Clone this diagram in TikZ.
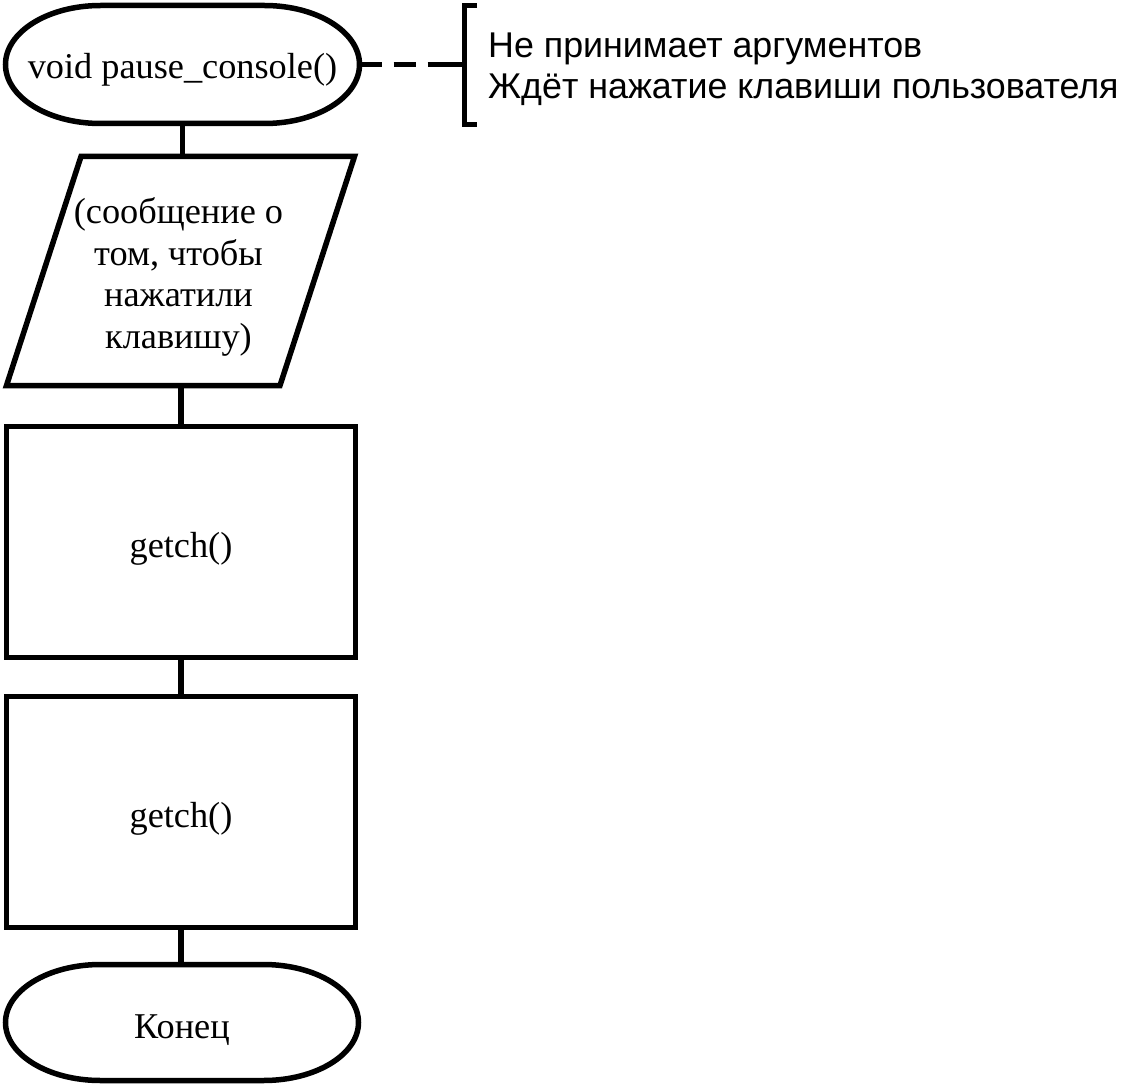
\documentclass[tikz,border=0pt]{standalone}
\usepackage{fontspec}
\setmainfont{Liberation Serif}
\newfontfamily\notefont{Liberation Sans}
\tikzset{
  shapebox/.style={inner sep=0pt, outer sep=0pt, shape=rectangle},
  blockfont/.style={font=\fontsize{36.3}{41.5}\selectfont},
  outline/.style={draw=black, line width=5.5pt, line join=miter},
  link/.style={draw=black, line width=5.5pt},
}
\newcommand\stadium[3]{%
  \draw[outline] ([xshift=#2]#1.north west) -- ([xshift=-#2]#1.north east)
    arc[start angle=90, end angle=-90, x radius=#2, y radius=#3]
    -- ([xshift=#2]#1.south west)
    arc[start angle=270, end angle=90, x radius=#2, y radius=#3] -- cycle;}
\begin{document}
\begin{tikzpicture}[x=1pt,y=1pt]
\useasboundingbox[fill=white] (0,0) rectangle (1122,-1086);
% start terminator
\node[shapebox, minimum width=354, minimum height=118,
  label={[blockfont, yshift=-5]center:void pause\_console()}] (start) at (182.5,-64.5) {};
\stadium{start}{95pt}{59pt}
% input/output
\node[shapebox, minimum width=348, minimum height=229] (io) at (180.5,-271) {};
\draw[outline] ([xshift=74.5]io.north west) -- (io.north east) -- ([xshift=-74.5]io.south east) -- (io.south west) -- cycle;
\node[blockfont, align=center, inner sep=0pt] (iotext) at ([xshift=-2,yshift=-6]io.center)
  {(сообщение о\\том, чтобы\\нажатили\\клавишу)};
% process blocks
\node[shapebox, outline, minimum width=349, minimum height=231,
  label={[blockfont, yshift=-7]center:getch()}] (r1) at (181,-542) {};
\node[shapebox, outline, minimum width=349, minimum height=231,
  label={[blockfont, yshift=-7]center:getch()}] (r2) at (181,-812) {};
% end terminator
\node[shapebox, minimum width=353, minimum height=116,
  label={[blockfont, yshift=-8]center:Конец}] (end) at (182,-1022.5) {};
\stadium{end}{95pt}{58pt}
% connectors
\draw[link] (start.south) -- (start.south |- io.north);
\draw[link] (r1.north |- io.south) -- (r1.north);
\draw[link] (r1.south) -- (r2.north);
\draw[link] (r2.south) -- (r2.south |- end.north);
% comment
\coordinate (brk) at (464.5,-64.5);
\coordinate (brktop) at (477,-5.5);
\coordinate (brkbot) at (477,-124.5);
\draw[outline] (brktop) -- (brktop -| brk) -- (brkbot -| brk) -- (brkbot);
\draw[link, dash pattern=on 22pt off 12pt on 22pt off 12pt on 40pt off 0pt] (start.east) -- (brk);
\node[anchor=west, align=left, inner sep=0pt, font=\notefont\fontsize{35.8}{41}\selectfont] (note) at (488,-69)
  {Не принимает аргументов\\Ждёт нажатие клавиши пользователя};
\end{tikzpicture}
\end{document}
